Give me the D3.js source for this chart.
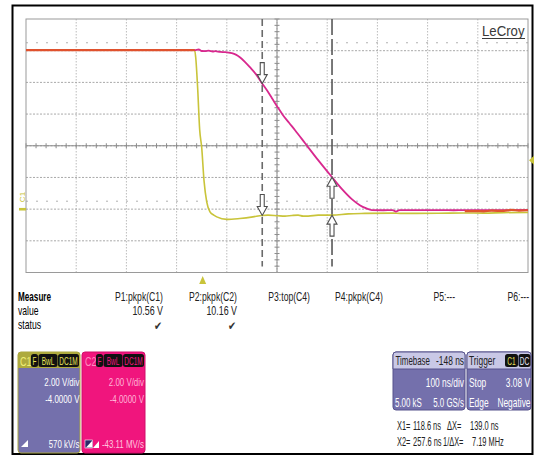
<!DOCTYPE html>
<html><head><meta charset="utf-8">
<script src="https://cdn.jsdelivr.net/npm/d3@7"></script>
<style>html,body{margin:0;padding:0;background:#fff}svg{display:block}</style>
</head><body>
<script>
// ---------- DATA ----------
const timeDomain = [-352, 648];          // ns, 10 div of 100 ns
const voltDomain = [-4, 12];             // V, 8 div of 2 V (offset -4 V)
const c1Trace = [[-352,10.03],[-200,10.03],[-16,10.03],[-14,9.6],[-10,7.6],[-6,5.0],[-2,3.9],[2.6,1.8],[8,0.46],[14.5,-0.17],[22,-0.38],[28,-0.49],[48,-0.65],[74,-0.59],[100,-0.49],[118,-0.40],[130,-0.38],[150,-0.42],[164,-0.44],[178,-0.40],[190,-0.38],[200,-0.44],[210,-0.44],[230,-0.38],[258,-0.38],[290,-0.30],[323,-0.27],[380,-0.25],[393,-0.27],[470,-0.26],[520,-0.24],[560,-0.25],[600,-0.22],[648,-0.21]];
const c2Trace = [[-352,10.03],[-16,10.03],[-8,10.08],[-2,9.98],[5,9.97],[12,10.0],[20,9.95],[25,9.97],[35,9.92],[45,9.91],[58,9.84],[66,9.75],[74,9.59],[84,9.3],[94,8.96],[106,8.52],[118,7.95],[128,7.5],[138,7.0],[150,6.4],[160,5.93],[172,5.45],[184,4.98],[204,4.16],[230,3.09],[257.5,2.02],[277.5,1.26],[297,0.63],[313,0.25],[325,0.06],[337,-0.06],[360,-0.07],[378,-0.06],[385,-0.15],[392,-0.06],[450,-0.06],[500,-0.07],[520,-0.06],[560,-0.07],[600,-0.06],[648,-0.05]];
const overlapLeft = [[-352,10.03],[-16,10.03]];
const overlapRight = [[522,-0.12],[545,-0.12],[560,-0.14],[575,-0.10],[600,-0.11],[615,-0.05],[630,-0.09],[648,-0.07]];
const cursorTimes = [118.6, 257.6];
const triggerTime = 0, triggerLevel = 3.08, c1Ground = 0;

const measureHeaders = ["P1:pkpk(C1)","P2:pkpk(C2)","P3:top(C4)","P4:pkpk(C4)","P5:---","P6:---"];
const measureValues = ["10.56 V","10.16 V","","","",""];
const measureStatus = ["\u2714","\u2714","","","",""];
const c1Info = ["2.00 V/div","-4.0000 V","570 kV/s"];
const c2Info = ["2.00 V/div","-4.0000 V","-43.11 MV/s"];
const timebaseInfo = ["-148 ns","100 ns/div","5.00 kS","5.0 GS/s"];
const triggerInfo = ["Stop","3.08 V","Edge","Negative"];
const cursorLabels = ["X1=","118.6 ns","\u0394X=","139.0 ns","X2=","257.6 ns","1/\u0394X=","7.19 MHz"];

// ---------- SETUP ----------
const W = 535, H = 457;
const svg = d3.select("body").append("svg").attr("width", W).attr("height", H);
svg.append("rect").attr("width", W).attr("height", H).attr("fill", "#fff");
const FONT = "'Liberation Sans',Arial,sans-serif";

const x = d3.scaleLinear().domain(timeDomain).range([26, 528]);
const y = d3.scaleLinear().domain(voltDomain).range([272.5, 19]);

// condensed text: horizontal scale sx
function S(s, px, py, o = {}) {
  return svg.append("text").text(s)
    .attr("transform", `translate(${px},${py}) scale(${o.sx || 0.7},1)`)
    .attr("text-anchor", o.anchor || "start")
    .attr("font-family", o.family || FONT)
    .attr("font-size", o.size || 11.5).attr("fill", o.fill || "#000")
    .attr("font-weight", o.weight || "normal");
}

// outer frame
svg.append("rect").attr("x", 12.5).attr("y", 5.5).attr("width", 520).attr("height", 448.5)
  .attr("fill", "none").attr("stroke", "#000").attr("stroke-width", 2);

// ---------- GRID ----------
const grid = svg.append("g");
const vTicks = d3.range(timeDomain[0], timeDomain[1] + 1, 100);
const hTicks = d3.range(voltDomain[0], voltDomain[1] + 0.01, 2);
grid.selectAll(".vg").data(vTicks.slice(1, -1)).join("line")
  .attr("x1", d => x(d)).attr("x2", d => x(d)).attr("y1", y(voltDomain[1])).attr("y2", y(voltDomain[0]))
  .attr("stroke", "#bcbcbc").attr("stroke-dasharray", "1.5,1.5");
grid.selectAll(".hg").data(hTicks.slice(1, -1)).join("line")
  .attr("y1", d => y(d)).attr("y2", d => y(d)).attr("x1", x(timeDomain[0])).attr("x2", x(timeDomain[1]))
  .attr("stroke", "#a8a8a8").attr("stroke-dasharray", "2,1.5");
grid.selectAll(".rl").data([11, 1]).join("line")
  .attr("y1", d => y(d) + 0.5 * 15.84).attr("y2", d => y(d) + 0.5 * 15.84)
  .attr("x1", x(timeDomain[0])).attr("x2", x(timeDomain[1]))
  .attr("stroke", "#b0b0b0").attr("stroke-dasharray", "2,8");
const tc = (timeDomain[0] + timeDomain[1]) / 2, vc = (voltDomain[0] + voltDomain[1]) / 2;
grid.append("line").attr("x1", x(timeDomain[0])).attr("x2", x(timeDomain[1])).attr("y1", y(vc)).attr("y2", y(vc)).attr("stroke", "#8c8c8c");
grid.append("line").attr("x1", x(tc)).attr("x2", x(tc)).attr("y1", y(voltDomain[1])).attr("y2", y(voltDomain[0])).attr("stroke", "#8c8c8c");
grid.selectAll(".mt").data(d3.range(timeDomain[0], timeDomain[1] + 1, 20)).join("line")
  .attr("x1", d => x(d)).attr("x2", d => x(d)).attr("y1", y(vc) - 2.5).attr("y2", y(vc) + 2.5).attr("stroke", "#8c8c8c");
grid.selectAll(".mv").data(d3.range(voltDomain[0], voltDomain[1] + 0.01, 0.4)).join("line")
  .attr("y1", d => y(d)).attr("y2", d => y(d)).attr("x1", x(tc) - 2.5).attr("x2", x(tc) + 2.5).attr("stroke", "#8c8c8c");
grid.append("rect").attr("x", x(timeDomain[0])).attr("y", y(voltDomain[1]))
  .attr("width", x(timeDomain[1]) - x(timeDomain[0])).attr("height", y(voltDomain[0]) - y(voltDomain[1]))
  .attr("fill", "none").attr("stroke", "#9a9a9a");

// ---------- CURSORS ----------
svg.selectAll(".cur").data(cursorTimes).join("line")
  .attr("x1", d => x(d)).attr("x2", d => x(d)).attr("y1", y(voltDomain[1])).attr("y2", y(voltDomain[0]) - 6)
  .attr("stroke", (d, i) => i ? "#585858" : "#6a6a6a").attr("stroke-width", 1.6)
  .attr("stroke-dasharray", (d, i) => i ? "16,4" : "7,4");

// ---------- TRACES ----------
const line = d3.line().x(d => x(d[0])).y(d => y(d[1])).curve(d3.curveMonotoneX);
svg.append("path").datum(c1Trace).attr("d", line).attr("fill", "none").attr("stroke", "#c9c43a").attr("stroke-width", 1.6);
svg.append("path").datum(c2Trace).attr("d", line).attr("fill", "none").attr("stroke", "#d8288e").attr("stroke-width", 1.8);
[overlapLeft, overlapRight].forEach(seg =>
  svg.append("path").datum(seg).attr("d", line).attr("fill", "none").attr("stroke", "#e0522e").attr("stroke-width", 2.2));

// ---------- ARROWS ----------
function interp(trace, t) {
  const i = d3.bisector(d => d[0]).left(trace, t);
  const a = trace[Math.max(0, i - 1)], b = trace[Math.min(trace.length - 1, i)];
  if (b[0] === a[0]) return a[1];
  return a[1] + (b[1] - a[1]) * (t - a[0]) / (b[0] - a[0]);
}
function arrow(px, tip, dir) {
  const s = -dir;
  const p = [[px - 2, tip + s * 21], [px + 2, tip + s * 21], [px + 2, tip + s * 9], [px + 5, tip + s * 9],
             [px, tip], [px - 5, tip + s * 9], [px - 2, tip + s * 9]];
  svg.append("path").attr("d", "M" + p.join("L") + "Z").attr("fill", "#fff").attr("stroke", "#505050").attr("stroke-width", 1.1);
}
arrow(x(cursorTimes[0]), y(interp(c2Trace, cursorTimes[0])), 1);
arrow(x(cursorTimes[0]), y(interp(c1Trace, cursorTimes[0])), 1);
arrow(x(cursorTimes[1]), y(interp(c2Trace, cursorTimes[1])), -1);
arrow(x(cursorTimes[1]), y(interp(c1Trace, cursorTimes[1])), -1);

// ---------- MARKERS ----------
const tx = x(triggerTime);
svg.append("path").attr("d", `M${tx},276 L${tx + 3.5},284 L${tx - 3.5},284 Z`).attr("fill", "#c9c43a");
const ty = y(triggerLevel);
svg.append("path").attr("d", `M529,${ty} L534,${ty - 4.5} L534,${ty + 4.5} Z`).attr("fill", "#c9c43a");
svg.append("rect").attr("x", 19).attr("y", y(c1Ground) - 1.2).attr("width", 7).attr("height", 2.6).attr("fill", "#c9c43a");
svg.append("text").text("C1").attr("transform", `translate(24.5,${y(c1Ground) - 7}) rotate(-90)`)
  .attr("font-family", FONT).attr("font-size", 8).attr("fill", "#c9c43a");

// LeCroy logo
S("LeCroy", 482, 36, { size: 15, sx: 0.88, fill: "#3a3a3a" });
svg.append("line").attr("x1", 482).attr("x2", 525).attr("y1", 38.5).attr("y2", 38.5).attr("stroke", "#3a3a3a").attr("stroke-width", 1.2);

// ---------- MEASURE TABLE ----------
S("Measure", 18, 301, { size: 12, sx: 0.68, weight: "bold" });
S("value", 18, 315, { size: 12, sx: 0.72 });
S("status", 18, 329, { size: 12, sx: 0.72 });
const colRight = [163, 237, 310, 383, 455, 529];
measureHeaders.forEach((h, i) => {
  S(h, colRight[i], 301, { size: 12, sx: 0.72, anchor: "end", fill: "#222" });
  if (measureValues[i]) S(measureValues[i], colRight[i], 315, { size: 12, sx: 0.74, anchor: "end", fill: "#222" });
  if (measureStatus[i]) S(measureStatus[i], colRight[i] - 1, 330, { size: 12, sx: 0.8, anchor: "end", fill: "#333", family: "DejaVu Sans" });
});

// ---------- CHANNEL BOXES ----------
function label(px, py, w, s, col) {
  svg.append("rect").attr("x", px).attr("y", py).attr("width", w).attr("height", 13).attr("rx", 2.5).attr("fill", "#111");
  S(s, px + w / 2, py + 10.5, { size: 10.5, sx: 0.62, anchor: "middle", fill: col });
}
// C1
svg.append("rect").attr("x", 18).attr("y", 352).attr("width", 62).attr("height", 101).attr("rx", 3).attr("fill", "#7470ac").attr("stroke", "#a9a543");
svg.append("path").attr("d", "M18,368 L18,355 Q18,352 21,352 L77,352 Q80,352 80,355 L80,368 Z").attr("fill", "#aeaa3e");
S("C1", 20, 365.5, { size: 12, sx: 0.75, fill: "#efee78" });
label(31, 354, 7, "F", "#e8e45a");
label(38.5, 354, 19, "BwL", "#e8e45a");
label(58, 354, 21, "DC1M", "#e8e45a");
S(c1Info[0], 79.5, 386, { size: 11, sx: 0.72, anchor: "end", fill: "#fff" });
S(c1Info[1], 79.5, 403, { size: 11, sx: 0.72, anchor: "end", fill: "#fff" });
S(c1Info[2], 79.5, 448, { size: 11, sx: 0.72, anchor: "end", fill: "#fff" });
svg.append("path").attr("d", "M21,447 L28,440 L28,447 Z").attr("fill", "#fff");
// C2
svg.append("rect").attr("x", 82).attr("y", 352).attr("width", 63).attr("height", 101).attr("rx", 3).attr("fill", "#f0157d").attr("stroke", "#d0106a");
S("C2", 85, 365.5, { size: 12, sx: 0.75, fill: "#ff8cc0" });
label(96, 354, 7, "F", "#f0157d");
label(103.5, 354, 19, "BwL", "#f0157d");
label(123, 354, 21, "DC1M", "#f0157d");
S(c2Info[0], 144, 386, { size: 11, sx: 0.72, anchor: "end", fill: "#ffb4d6" });
S(c2Info[1], 144, 403, { size: 11, sx: 0.72, anchor: "end", fill: "#ffb4d6" });
S(c2Info[2], 144, 448, { size: 11, sx: 0.72, anchor: "end", fill: "#ffc4de" });
svg.append("rect").attr("x", 85).attr("y", 440).attr("width", 7.5).attr("height", 8).attr("fill", "#2a2a6a").attr("stroke", "#fff").attr("stroke-width", 0.6);
svg.append("path").attr("d", "M86,447.5 L92,441 L92,447.5 Z").attr("fill", "#fff");
svg.append("path").attr("d", "M93,448 L99,441 L99,448 Z").attr("fill", "#fff");

// Timebase / Trigger panels
function panel(px, w) {
  svg.append("rect").attr("x", px).attr("y", 352).attr("width", w).attr("height", 58).attr("rx", 3).attr("fill", "#7470ac").attr("stroke", "#56528c");
  svg.append("path").attr("d", `M${px},369 L${px},355 Q${px},352 ${px + 3},352 L${px + w - 3},352 Q${px + w},352 ${px + w},355 L${px + w},369 Z`)
    .attr("fill", "#c9c8e6").attr("stroke", "#56528c");
}
panel(393, 72);
S("Timebase", 395.5, 365, { size: 12, sx: 0.66, fill: "#222" });
S(timebaseInfo[0], 464, 365, { size: 12, sx: 0.7, anchor: "end", fill: "#222" });
S(timebaseInfo[1], 464, 387, { size: 12, sx: 0.7, anchor: "end", fill: "#fff" });
S(timebaseInfo[2], 395, 407, { size: 12, sx: 0.66, fill: "#fff" });
S(timebaseInfo[3], 464, 407, { size: 12, sx: 0.66, anchor: "end", fill: "#fff" });
panel(467, 64);
S("Trigger", 469, 365, { size: 12, sx: 0.7, fill: "#222" });
label(505, 354, 13, "C1", "#e8e45a");
label(518.5, 354, 12, "DC", "#e8e8f8");
S(triggerInfo[0], 469, 387, { size: 12, sx: 0.7, fill: "#fff" });
S(triggerInfo[1], 530, 387, { size: 12, sx: 0.7, anchor: "end", fill: "#fff" });
S(triggerInfo[2], 469, 407, { size: 12, sx: 0.7, fill: "#fff" });
S(triggerInfo[3], 530.5, 407, { size: 12, sx: 0.7, anchor: "end", fill: "#fff" });

// cursor readouts
const cx = [397, 413, 447, 470, 397, 413, 443, 472];
cursorLabels.forEach((s, i) => {
  S(s, cx[i], i < 4 ? 430 : 446, { size: 12, sx: 0.62, fill: "#222" });
});
</script>
</body></html>
